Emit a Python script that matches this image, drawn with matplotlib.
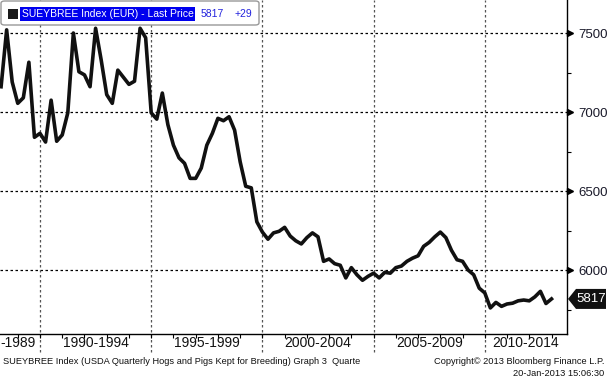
import numpy as np
import matplotlib
matplotlib.use("Agg")
import matplotlib.pyplot as plt
import matplotlib.transforms as mtransforms
from matplotlib.patches import FancyBboxPatch, Polygon

# ---------------- data ----------------
start_year = 1988.25   # first quarter shown (1988 Q2)
quarter_step = 0.25
values = [7160, 7520, 7190, 7055, 7090, 7315, 6840, 6865, 6810, 7075,
          6815, 6855, 6995, 7500, 7255, 7235, 7160, 7530, 7330, 7110,
          7055, 7265, 7220, 7175, 7195, 7530, 7470, 6995, 6955, 7120,
          6920, 6790, 6710, 6675, 6580, 6580, 6645, 6790, 6865, 6960,
          6945, 6970, 6885, 6685, 6530, 6520, 6305, 6240, 6195, 6235,
          6245, 6270, 6215, 6185, 6165, 6205, 6235, 6210, 6055, 6070,
          6040, 6030, 5950, 6015, 5970, 5935, 5960, 5980, 5950, 5985,
          5980, 6015, 6025, 6055, 6075, 6090, 6150, 6175, 6210, 6240,
          6205, 6125, 6065, 6055, 6000, 5970, 5885, 5855, 5760, 5795,
          5770, 5785, 5790, 5805, 5810, 5805, 5830, 5865, 5788, 5817]
period_bounds = [1990, 1995, 2000, 2005, 2010]
period_labels = ["-1989", "1990-1994", "1995-1999", "2000-2004", "2005-2009", "2010-2014"]
label_centers = [None, 1992.5, 1997.5, 2002.5, 2007.5, None]
y_major = [6000, 6500, 7000, 7500]
y_minor = [5750, 6250, 6750, 7250]
legend_text = "SUEYBREE Index (EUR) - Last Price"
last_value = 5817
change = "+29"
footer_left = "SUEYBREE Index (USDA Quarterly Hogs and Pigs Kept for Breeding) Graph 3  Quarte"
footer_right1 = "Copyright\u00a9 2013 Bloomberg Finance L.P."
footer_right2 = "20-Jan-2013 15:06:30"

x = start_year + quarter_step * np.arange(len(values))

W, H = 608, 380
FONT = "Liberation Sans"
plt.rcParams['font.family'] = [FONT, 'DejaVu Sans']

fig = plt.figure(figsize=(W / 100, H / 100), dpi=100)
fig.patch.set_facecolor("white")

def fx(px):
    return px / W

def fy(py):
    return 1 - py / H

ax_left, ax_right, ax_top, ax_bottom = 0, 567, 0, 334
ax = fig.add_axes([fx(ax_left), fy(ax_bottom), fx(ax_right - ax_left), (ax_bottom - ax_top) / H])

xmin = 1990 + (0 - 40) / 22.24
xmax = 1990 + (567 - 40) / 22.24
ax.set_xlim(xmin, xmax)
ax.set_ylim(5595, 7709)

# grid
for yv in y_major:
    ax.axhline(yv, color="black", lw=0.9, ls=(0, (2, 2)), zorder=1)
for xb in period_bounds:
    ax.axvline(xb, ymin=-18 / 334, ymax=1, color="#555555", lw=0.9, ls=(0, (2, 2)),
               clip_on=False, zorder=1)

ax.plot(x, values, color="#111111", lw=2.6, solid_joinstyle="round", zorder=3)

# spines
for s in ["left", "top"]:
    ax.spines[s].set_visible(False)
ax.spines["right"].set_color("black")
ax.spines["bottom"].set_color("black")
ax.spines["right"].set_linewidth(1.0)
ax.spines["bottom"].set_linewidth(1.0)

# y axis on right
ax.yaxis.tick_right()
ax.set_yticks(y_major)
ax.set_yticklabels([str(v) for v in y_major])
ax.set_yticks(y_minor, minor=True)
ax.tick_params(axis="y", which="major", length=0, pad=8, labelsize=9.5, labelcolor="#1a1a2a")
ax.tick_params(axis="y", which="minor", length=3, width=0.8, direction="out", color="black")

# triangle markers at major ticks
tri_trans = mtransforms.blended_transform_factory(ax.transAxes, ax.transData) + \
    mtransforms.ScaledTranslation(3 / 100, 0, fig.dpi_scale_trans)
ax.plot([1.0] * len(y_major), y_major, ls="none", marker=">", ms=5, color="black",
        transform=tri_trans, clip_on=False, zorder=5)

# x axis
ax.set_xticks([])
ax.set_xticks(np.arange(1989, 2014), minor=True)
ax.tick_params(axis="x", which="minor", length=3, width=0.8, direction="out", color="black")
ax.tick_params(axis="x", which="major", length=0)

lab_trans = mtransforms.blended_transform_factory(ax.transData, ax.transAxes)
lab_y = -(343 - 334) / 334
for i, (lab, c) in enumerate(zip(period_labels, label_centers)):
    if i == 0:
        ax.text(xmin, lab_y, lab, transform=lab_trans, ha="left",
                va="center", fontsize=10, color="#111111")
    elif c is None:
        ax.text((2010 + xmax) / 2, lab_y, lab, transform=lab_trans, ha="center",
                va="center", fontsize=10, color="#111111")
    else:
        ax.text(c, lab_y, lab, transform=lab_trans, ha="center", va="center",
                fontsize=10, color="#111111")

# legend box
leg = FancyBboxPatch((fx(1), fy(25)), fx(258), (24) / H,
                     boxstyle="round,pad=0,rounding_size=0.006",
                     transform=fig.transFigure, fc="white", ec="#999999", lw=1.0, zorder=10)
fig.patches.append(leg)
sq = plt.Rectangle((fx(8), fy(19)), fx(10), 10 / H, transform=fig.transFigure,
                   fc="#1a1a1a", ec="none", zorder=11)
fig.patches.append(sq)
fig.text(fx(22), fy(14), legend_text, fontsize=7.5, color="white", va="center", ha="left",
         bbox=dict(boxstyle="square,pad=0.15", fc="#0000ee", ec="none"), zorder=12)
fig.text(fx(201), fy(14), str(last_value), fontsize=7.5, color="#2222dd", va="center", ha="left", zorder=12)
fig.text(fx(235), fy(14), change, fontsize=7.5, color="#2222dd", va="center", ha="left", zorder=12)

# last price label
fig.canvas.draw()
ydisp = ax.transData.transform((x[-1], last_value))[1]
xdisp = ax.transAxes.transform((1.0, 0))[0]
poly = Polygon([(xdisp + 1, ydisp), (xdisp + 9, ydisp + 10), (W - 2, ydisp + 10),
                (W - 2, ydisp - 10), (xdisp + 9, ydisp - 10)], closed=True,
               transform=mtransforms.IdentityTransform(), fc="#111111", ec="none", zorder=20)
fig.patches.append(poly)
fig.text((xdisp + 9 + W - 2) / 2 / W, ydisp / H, str(last_value), fontsize=9.5, color="white",
         ha="center", va="center", zorder=21)

# footer
fig.text(fx(3), fy(361), footer_left, fontsize=6.7, color="#111111", va="center", ha="left")
fig.text(fx(604), fy(361), footer_right1, fontsize=6.7, color="#111111", va="center", ha="right")
fig.text(fx(604), fy(373), footer_right2, fontsize=6.7, color="#111111", va="center", ha="right")

fig.savefig("out.png", dpi=100, facecolor="white")
